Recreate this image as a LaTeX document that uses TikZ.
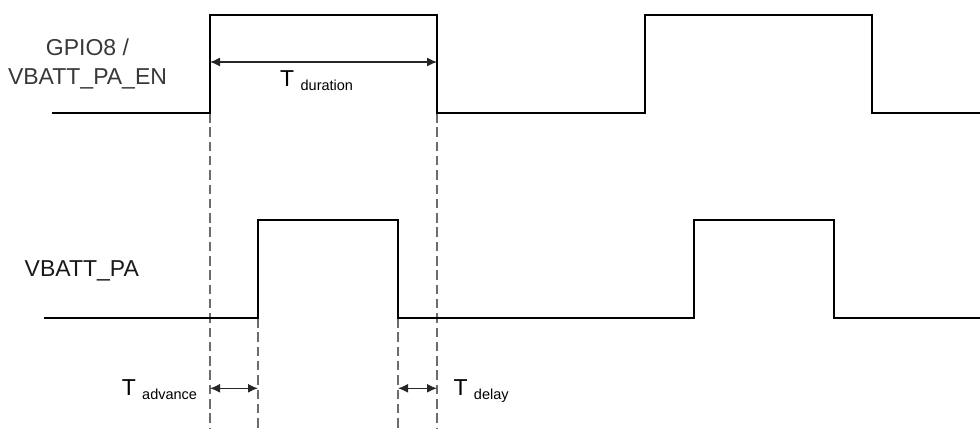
\documentclass[tikz,border=0pt]{standalone}
\usepackage{fontspec}
\setmainfont{Liberation Sans}
\usetikzlibrary{arrows.meta}
\tikzset{
  sig/.style={line width=2.4pt, black, line join=miter},
  guide/.style={line width=1.2pt, gray!85!black, dash pattern=on 9.5pt off 4.8pt},
  dim/.style={line width=1.3pt, black!85, {Latex[length=10pt,width=9pt]}-{Latex[length=10pt,width=9pt]}},
  lbl/.style={inner sep=0pt, font=\fontsize{23}{27}\selectfont},
}
\newcommand{\subtxt}[1]{\raisebox{-3.5pt}{\fontsize{14.5}{17}\selectfont #1}}
\begin{document}
\begin{tikzpicture}[x=1pt,y=-1pt]
\useasboundingbox (0,0) rectangle (980,429);
% key points
\coordinate (a0) at (52,113);
\coordinate (a1) at (210,113);
\coordinate (a2) at (210,15);
\coordinate (a3) at (437,15);
\coordinate (a4) at (437,113);
\coordinate (a5) at (645,113);
\coordinate (a6) at (645,15);
\coordinate (a7) at (872,15);
\coordinate (a8) at (872,113);
\coordinate (a9) at (980,113);
\coordinate (b0) at (44,318);
\coordinate (b1) at (258,318);
\coordinate (b2) at (258,220);
\coordinate (b3) at (398,220);
\coordinate (b4) at (398,318);
\coordinate (b5) at (694,318);
\coordinate (b6) at (694,220);
\coordinate (b7) at (834,220);
\coordinate (b8) at (834,318);
\coordinate (b9) at (980,318);
% guide ends
\coordinate (g1) at (210,429);
\coordinate (g2) at (437,429);
\coordinate (g3) at (258,429);
\coordinate (g4) at (398,429);
% dimension ends
\coordinate (d1) at (210,62);
\coordinate (d2) at (437,62);
\coordinate (e1) at (210,388.3);
\coordinate (e2) at (258,388.3);
\coordinate (f1) at (398,388.3);
\coordinate (f2) at (437,388.3);

% guides
\draw[guide] (a1) -- (g1);
\draw[guide] (a4) -- (g2);
\draw[guide] (b1) -- (g3);
\draw[guide] (b4) -- (g4);

% signals
\draw[sig] (a0) -- (a1) -- (a2) -- (a3) -- (a4) -- (a5) -- (a6) -- (a7) -- (a8) -- (a9);
\draw[sig] (b0) -- (b1) -- (b2) -- (b3) -- (b4) -- (b5) -- (b6) -- (b7) -- (b8) -- (b9);

% dimensions
\draw[dim] (d1) -- (d2);
\draw[dim] (e1) -- (e2);
\draw[dim] (f1) -- (f2);

% labels
\node[lbl, anchor=base, text=black!78] (gpio) at (87.5,55) {GPIO8 /};
\node[lbl, anchor=base, text=black!78] (en) at (87.5,84) {VBATT\_PA\_EN};
\node[lbl, anchor=base west, text=black!90] (pa) at (24.5,276.7) {VBATT\_PA};
\node[lbl, anchor=base west] (tdur) at (280,86.7) {T \subtxt{duration}};
\node[lbl, anchor=base west] (tadv) at (121.6,395.7) {T \subtxt{advance}};
\node[lbl, anchor=base west] (tdel) at (453.3,395.7) {T \subtxt{delay}};
\end{tikzpicture}
\end{document}
